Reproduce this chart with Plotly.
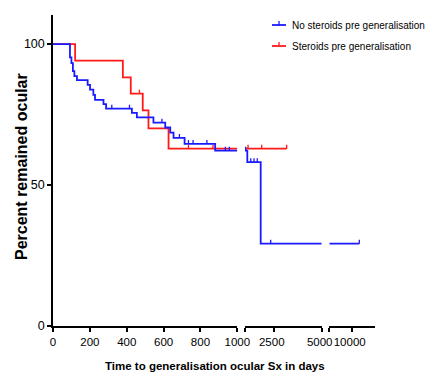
import plotly.graph_objects as go

# ---------------- data ----------------
blue_name = "No steroids pre generalisation"
blue_times = [92, 100, 108, 116, 130, 188, 201, 219, 228, 274, 288, 428, 455, 545,
              609, 636, 654, 714, 880, 1120, 1819]
blue_surv = [95.3, 93.2, 90.4, 88.6, 87.2, 85.5, 83.8, 82.0, 80.2, 78.7, 77.1, 75.6,
             74.0, 72.1, 70.4, 68.6, 66.7, 64.6, 62.2, 58.1, 29.2]
blue_end = 11700
blue_censor = [319, 415, 591, 686, 735, 760, 835, 935, 957, 1036, 1300, 1470, 1640,
               2340, 11700]

red_name = "Steroids pre generalisation"
red_times = [120, 379, 422, 487, 518, 627]
red_surv = [94.1, 88.2, 82.4, 76.5, 70.1, 62.9]
red_end = 3175
red_censor = [469, 735, 868, 1160, 1871, 3175]

segments = [(0, 1000), (1000, 5000), (5000, 15200)]
seg_tickvals = [[0, 200, 400, 600, 800, 1000], [1000, 2500, 5000], [5000, 10000]]
seg_ticktext = [["0", "200", "400", "600", "800", "1000"], ["", "2500", "5000"], ["", "10000"]]
y_ticks = [0, 50, 100]

BLUE = "#1a1aff"
RED = "#ff1a1a"
FONT = "Liberation Sans, Arial, sans-serif"

# ---------------- helpers ----------------
def surv_at(t, times, surv):
    s = 100.0
    for ti, si in zip(times, surv):
        if t >= ti:
            s = si
    return s


def step_path(lo, hi, times, surv, end):
    hi = min(hi, end)
    if hi <= lo:
        return [], []
    xs = [lo]
    ys = [surv_at(lo, times, surv)]
    for ti, si in zip(times, surv):
        if lo < ti <= hi:
            xs += [ti, ti]
            ys += [ys[-1], si]
    xs.append(hi)
    ys.append(surv_at(hi, times, surv))
    return xs, ys


fig = go.Figure()
axis_names = ["x", "x2", "x3"]

for name, times, surv, end, cens, color in [
    (red_name, red_times, red_surv, red_end, red_censor, RED),
    (blue_name, blue_times, blue_surv, blue_end, blue_censor, BLUE),
]:
    for k, (lo, hi) in enumerate(segments):
        xs, ys = step_path(lo, hi, times, surv, end)
        if xs:
            fig.add_trace(go.Scatter(x=xs, y=ys, xaxis=axis_names[k], yaxis="y",
                                     mode="lines", line=dict(color=color, width=1.8),
                                     name=name, showlegend=False, hoverinfo="skip"))
        cx = [c for c in cens if lo <= c < hi or (k == len(segments) - 1 and c == hi)]
        if cx:
            cy = [surv_at(c, times, surv) for c in cx]
            fig.add_trace(go.Scatter(x=cx, y=cy, xaxis=axis_names[k], yaxis="y",
                                     mode="markers", marker=dict(size=1, color=color, opacity=0),
                                     error_y=dict(type="data", symmetric=False,
                                                  array=[1.4] * len(cx), arrayminus=[0] * len(cx),
                                                  width=0, thickness=1.3, color=color),
                                     showlegend=False, hoverinfo="skip"))

W, H = 430, 374
L, R, T, B = 53, 0, 15, 48
pw = W - L - R
ph = H - T - B

def px_x(p):
    return (p - L) / pw

def px_y(p):
    return (H - B - p) / ph

doms = [[0, px_x(237.3)], [px_x(245), px_x(321.7)], [px_x(329.3), px_x(375)]]
shifts = [0, -2, -2]

axis_common = dict(showline=True, linecolor="black", linewidth=1.5, ticks="outside",
                   ticklen=4, tickwidth=1.5, tickcolor="black", showgrid=False,
                   zeroline=False, anchor="y", automargin=False,
                   tickfont=dict(family=FONT, size=11.5, color="black"))

layout = dict(
    width=W, height=H, autosize=False,
    margin=dict(l=L, r=R, t=T, b=B, pad=0, autoexpand=False),
    paper_bgcolor="white", plot_bgcolor="white",
    showlegend=False,
    yaxis=dict(domain=[0, 1], range=[0, 110.3], tickvals=y_ticks,
               ticktext=[str(v) for v in y_ticks],
               showline=True, linecolor="black", linewidth=1.5, ticks="outside",
               ticklen=4, tickwidth=1.5, tickcolor="black", showgrid=False,
               zeroline=False, anchor="x", automargin=False,
               tickfont=dict(family=FONT, size=12.5, color="black")),
)
for k in range(3):
    key = "xaxis" if k == 0 else f"xaxis{k + 1}"
    layout[key] = dict(axis_common, domain=doms[k], range=list(segments[k]),
                       tickvals=seg_tickvals[k], ticktext=seg_ticktext[k],
                       ticklabelshift=shifts[k])

fig.update_layout(**layout)

# legend (drawn as layout decoration)
for name, color, ly in [(blue_name, BLUE, 25), (red_name, RED, 46)]:
    fig.add_shape(type="line", xref="paper", yref="paper",
                  x0=px_x(272), x1=px_x(286), y0=px_y(ly), y1=px_y(ly),
                  line=dict(color=color, width=1.8))
    fig.add_shape(type="line", xref="paper", yref="paper",
                  x0=px_x(279), x1=px_x(279), y0=px_y(ly), y1=px_y(ly - 4),
                  line=dict(color=color, width=1.3))
    fig.add_annotation(text=name, xref="paper", yref="paper", x=px_x(290), y=px_y(ly),
                       xanchor="left", yanchor="middle", showarrow=False,
                       font=dict(family=FONT, size=10, color="black"))

fig.add_annotation(text="<b>Time to generalisation ocular Sx in days</b>",
                   xref="paper", yref="paper", x=px_x(214.5), y=px_y(366),
                   xanchor="center", yanchor="middle", showarrow=False,
                   font=dict(family=FONT, size=11.5, color="black"))
fig.add_annotation(text="<b>Percent remained ocular</b>",
                   xref="paper", yref="paper", x=px_x(21), y=px_y(167),
                   xanchor="center", yanchor="middle", showarrow=False, textangle=-90,
                   font=dict(family=FONT, size=16, color="black"))

fig.write_html("out.html", config={"displayModeBar": False, "responsive": False},
               post_script="document.body.style.margin='0';")
